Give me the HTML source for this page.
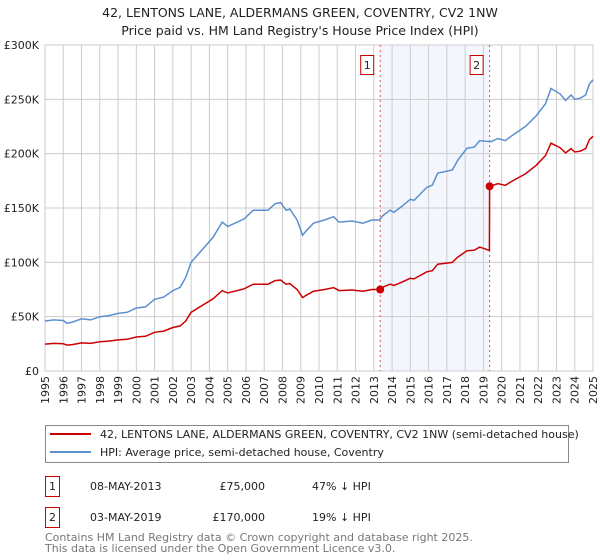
<!DOCTYPE html>
<html><head><meta charset="utf-8"><style>
body{margin:0;background:#fff;font-family:"DejaVu Sans","Liberation Sans",sans-serif;}
svg{display:block}
</style></head><body>
<svg width="600" height="560" id="c" font-family="DejaVu Sans, Liberation Sans, sans-serif">
<text x="300" y="17" text-anchor="middle" font-size="12.5" fill="#222">42, LENTONS LANE, ALDERMANS GREEN, COVENTRY, CV2 1NW</text>
<text x="300" y="35" text-anchor="middle" font-size="12.5" fill="#222">Price paid vs. HM Land Registry's House Price Index (HPI)</text>
<g id="plot"></g>
<rect x="45.5" y="425.5" width="523" height="37" fill="none" stroke="#888"/>
<line x1="50" y1="434" x2="91" y2="434" stroke="#cc0000" stroke-width="2"/>
<text x="100" y="438" font-size="11" fill="#222">42, LENTONS LANE, ALDERMANS GREEN, COVENTRY, CV2 1NW (semi-detached house)</text>
<line x1="50" y1="452" x2="91" y2="452" stroke="#5b8fd0" stroke-width="2"/>
<text x="100" y="456" font-size="11" fill="#222">HPI: Average price, semi-detached house, Coventry</text>
<g font-size="11" fill="#222">
<rect x="45.5" y="476.5" width="14" height="20" fill="none" stroke="#cc0000"/>
<text x="52.5" y="490" text-anchor="middle">1</text>
<text x="90" y="490">08-MAY-2013</text>
<text x="265" y="490" text-anchor="end">£75,000</text>
<text x="312" y="490">47% ↓ HPI</text>
<rect x="45.5" y="507.5" width="14" height="20" fill="none" stroke="#cc0000"/>
<text x="52.5" y="521" text-anchor="middle">2</text>
<text x="90" y="521">03-MAY-2019</text>
<text x="265" y="521" text-anchor="end">£170,000</text>
<text x="312" y="521">19% ↓ HPI</text>
</g>
<text x="45" y="541" font-size="11" fill="#777">Contains HM Land Registry data © Crown copyright and database right 2025.</text>
<text x="45" y="552" font-size="11" fill="#777">This data is licensed under the Open Government Licence v3.0.</text>
</svg>
<script>
const hpiYears=[1995,1995.5,1996,1996.2,1996.5,1997,1997.5,1998,1998.5,1999,1999.5,2000,2000.5,2001,2001.5,2002,2002.4,2002.7,2003,2004.2,2004.7,2005,2005.9,2006.4,2007.2,2007.6,2007.9,2008.2,2008.4,2008.8,2009.1,2009.3,2009.7,2010.3,2010.8,2011.1,2011.8,2012.4,2012.9,2013.3,2013.5,2013.9,2014.1,2014.5,2015,2015.2,2015.9,2016.2,2016.5,2017.3,2017.6,2018.1,2018.5,2018.8,2019.4,2019.8,2020.2,2020.6,2021.3,2021.9,2022.4,2022.7,2023.2,2023.5,2023.8,2024,2024.3,2024.6,2024.8,2025];
const hpiValues=[46,47,46.5,44,45,48,47,50,51,53,54,58,59,66,68,74,77,86,100,123,137,133,140,148,148,154,155,148,149,139,125,129,136,139,142,137,138,136,139,139,143,148,146,151,158,157,169,171,182,185,194,205,206,212,211,214,212,217,225,235,246,260,255,249,254,250,251,254,264,268];
const priceYears=[1995,1995.5,1996,1996.2,1996.5,1997,1997.5,1998,1998.5,1999,1999.5,2000,2000.5,2001,2001.5,2002,2002.4,2002.7,2003,2004.2,2004.7,2005,2005.9,2006.4,2007.2,2007.6,2007.9,2008.2,2008.4,2008.8,2009.1,2009.3,2009.7,2010.3,2010.8,2011.1,2011.8,2012.4,2012.9,2013.35,2013.5,2013.9,2014.1,2014.5,2015,2015.2,2015.9,2016.2,2016.5,2017.3,2017.6,2018.1,2018.5,2018.8,2019.33,2019.34,2019.8,2020.2,2020.6,2021.3,2021.9,2022.4,2022.7,2023.2,2023.5,2023.8,2024,2024.3,2024.6,2024.8,2025];
const priceValues=[24.8,25.4,25.1,23.8,24.3,25.9,25.4,27,27.5,28.6,29.2,31.3,31.9,35.6,36.7,40,41.5,46,54,66.4,74,71.8,75.6,79.9,79.9,83.2,83.7,79.9,80.5,75,67.5,69.7,73.4,75,76.7,74,74.5,73.4,75,75,77.2,79.9,78.8,81.5,85.3,84.8,91.3,92.3,98.3,99.9,104.8,110.7,111.2,114,111,170,172.5,170.9,174.9,181.4,189.4,198.3,209.6,205.5,200.7,204.7,201.5,202.3,204.7,212.8,216];
const saleYears=[2013.35,2019.34];
const saleValues=[75,170];
const saleLabels=["1","2"];
const yTicks=[0,50,100,150,200,250,300];
const yTickLabels=["£0","£50K","£100K","£150K","£200K","£250K","£300K"];
const xTicks=[1995,1996,1997,1998,1999,2000,2001,2002,2003,2004,2005,2006,2007,2008,2009,2010,2011,2012,2013,2014,2015,2016,2017,2018,2019,2020,2021,2022,2023,2024,2025];

const L=45,R=593,T=45,B=371;
const X=y=>L+(y-1995)/30*(R-L);
const Y=v=>B-v/300*(B-T);
const NS="http://www.w3.org/2000/svg";
const g=document.getElementById('plot');
function mk(t,a,p){const e=document.createElementNS(NS,t);for(const k in a)e.setAttribute(k,a[k]);(p||g).appendChild(e);return e;}
const band=mk('rect',{x:X(saleYears[0]),y:T,width:X(saleYears[1])-X(saleYears[0]),height:B-T,fill:'#eef3fc',opacity:0.7});


xTicks.forEach(t=>{
  const l=mk('line',{x1:X(t),x2:X(t),y1:T,y2:B,stroke:'#ccc','stroke-width':1});
  
  
  const xx=X(t)+4, yy=376;
  const tx=mk('text',{x:xx,y:yy,'text-anchor':'end','font-size':11,fill:'#222',transform:`rotate(-90 ${xx} ${yy})`});
  tx.textContent=t;
  
  
});
yTicks.forEach((t,i)=>{
  const l=mk('line',{x1:L,x2:R,y1:Y(t),y2:Y(t),stroke:'#ccc','stroke-width':1});
  
  
  const tx=mk('text',{x:39,y:Y(t)+4,'text-anchor':'end','font-size':11,fill:'#222'});
  tx.textContent=yTickLabels[i];
  
  
});
saleYears.forEach((s,i)=>{
  const l=mk('line',{x1:X(s),x2:X(s),y1:T,y2:B,stroke:'#e05050','stroke-width':1,'stroke-dasharray':'2,3'});
  
  
  const r=mk('rect',{x:X(s)-19.5,y:55.5,width:13,height:19,fill:'#fff',stroke:'#cc0000'});
  
  
  const tx=mk('text',{x:X(s)-13,y:69,'text-anchor':'middle','font-size':11,fill:'#222'});
  tx.textContent=saleLabels[i];
  
  
});
const hp=mk('path',{d:hpiYears.map((y,i)=>(i?'L':'M')+X(y).toFixed(1)+','+Y(hpiValues[i]).toFixed(1)).join(''),fill:'none',stroke:'#5b8fd0','stroke-width':1.5});


const pp=mk('path',{d:priceYears.map((y,i)=>(i?'L':'M')+X(y).toFixed(1)+','+Y(priceValues[i]).toFixed(1)).join(''),fill:'none',stroke:'#cc0000','stroke-width':1.5});


saleYears.forEach((s,i)=>{
  const c=mk('circle',{cx:X(s),cy:Y(saleValues[i]),r:4,fill:'#cc0000'});
  
  
});
</script>
</body></html>
